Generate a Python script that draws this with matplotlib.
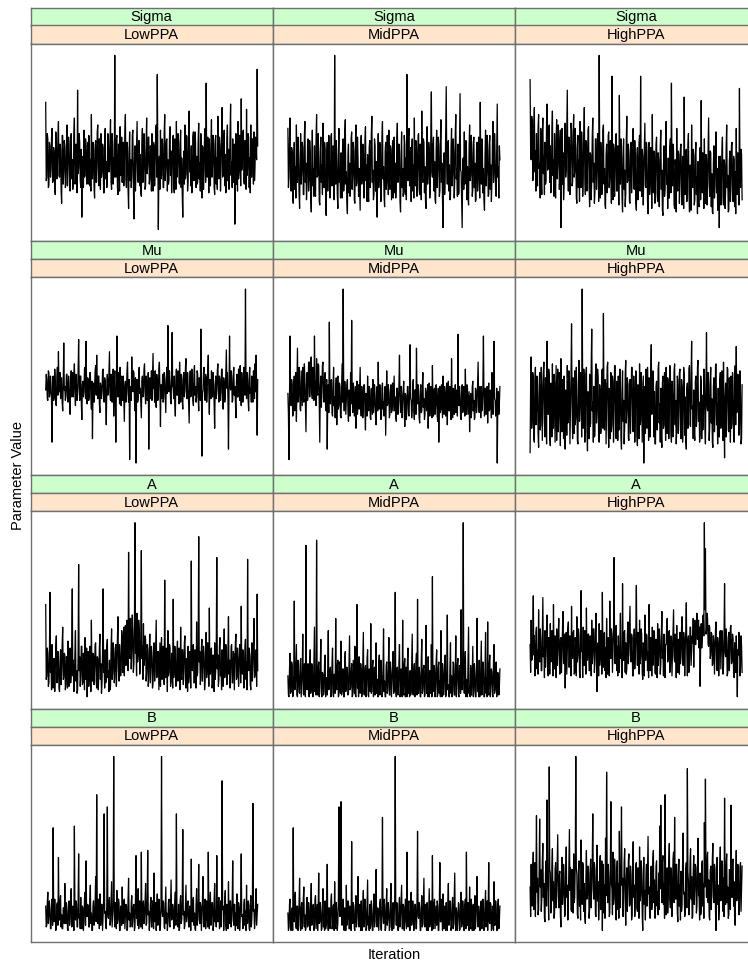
import numpy as np
import matplotlib.pyplot as plt

plt.rcParams['font.family'] = ['Liberation Sans', 'DejaVu Sans']

# trace values (relative scale per panel, 0 = lowest, 100 = highest)
sigma_low = [73,28,30,55,52,24,25,50,48,30,35,53,58,27,28,47,44,23,20,56,50,29,38,52,62,31,30,49,46,22,15,54,54,26,33,51,47,24,26,48,
             60,25,36,53,49,27,22,51,55,29,40,23,30,54,64,26,27,49,45,21,80,32,35,55,50,28,24,46,7,40,42,24,57,30,31,52,48,26,37,50,
             26,54,53,25,40,22,66,31,29,50,46,24,18,48,51,27,36,56,60,28,25,52,44,23,55,30,33,49,47,21,21,53,58,29,39,24,28,55,52,33,
             34,51,63,27,23,55,49,26,41,30,100,35,30,52,54,24,20,49,45,22,59,31,35,53,27,48,50,25,38,56,66,29,24,50,47,23,12,44,56,28,
             40,24,31,54,57,26,6,38,48,22,36,52,62,30,27,51,51,25,43,21,19,49,58,27,34,55,46,23,25,50,64,32,37,53,53,26,29,48,44,22,
             55,27,22,50,48,25,38,54,60,30,89,45,0,33,42,23,57,29,31,52,49,24,24,55,66,28,35,51,52,22,40,26,28,53,59,31,45,21,33,50,
             54,25,21,52,47,23,62,30,36,55,50,27,26,49,57,24,41,20,7,36,45,26,60,29,32,54,53,22,28,51,68,33,39,25,48,21,23,53,56,28,
             35,56,50,24,42,26,27,52,61,29,38,22,55,31,18,48,47,23,33,55,58,27,84,40,30,53,44,21,52,28,25,50,63,30,37,54,49,24,20,51,
             54,26,41,23,65,32,29,53,48,22,36,55,70,30,31,50,57,25,43,21,24,52,60,28,46,23,34,56,72,31,39,24,52,27,27,49,3,35,55,26,
             44,22,62,29,33,54,50,25,75,34,38,56,57,27,26,51,48,23,69,31,35,55,53,24,41,21,60,30,30,52,47,26,56,28,36,53,44,40,92,48]
sigma_mid = [58,24,30,52,64,28,22,47,45,19,15,41,50,23,36,18,60,29,27,53,43,21,12,38,55,26,33,50,47,20,20,54,62,27,38,17,25,49,52,22,
             29,51,44,18,10,40,57,25,35,19,48,23,19,52,66,30,31,55,40,16,14,45,53,27,37,20,61,28,24,50,46,19,8,39,50,22,34,54,42,18,
             21,53,55,25,30,48,47,17,100,40,26,51,39,20,12,44,58,27,35,18,44,24,18,50,52,22,28,55,63,26,33,16,9,42,49,21,38,19,24,52,
             56,23,31,50,45,17,15,48,60,25,27,53,41,19,35,22,11,46,54,26,30,49,47,18,22,51,59,28,37,16,43,21,16,47,51,24,29,55,65,27,
             34,17,20,52,48,22,39,18,7,37,55,24,32,50,44,16,25,53,62,29,36,19,13,45,50,23,28,54,42,20,57,26,23,48,46,17,33,51,18,43,
             53,21,38,18,26,52,61,27,30,49,45,16,10,41,56,24,35,19,22,54,49,20,41,17,89,36,28,53,58,25,33,47,16,44,52,22,37,18,64,28,
             25,51,47,19,31,54,55,23,20,49,43,17,68,30,27,52,50,21,36,16,12,42,59,26,33,50,46,18,24,55,79,33,30,48,53,22,39,17,15,45,
             57,24,34,53,48,19,22,50,63,27,38,16,1,35,44,20,30,54,82,37,26,49,51,22,37,17,19,46,58,25,32,52,45,18,28,55,66,29,35,19,
             49,20,21,52,78,34,33,18,1,38,41,23,56,26,27,51,47,17,36,20,14,47,60,28,31,54,44,19,23,50,53,24,38,16,17,46,50,22,29,53,
             42,18,73,31,26,52,48,21,35,17,11,43,57,25,32,54,45,19,20,49,54,23,37,16,28,51,62,27,33,55,43,20,19,48,72,30,36,18,48,40]
sigma_high = [86,45,40,65,62,28,30,60,70,33,45,22,55,30,25,58,66,35,38,18,58,29,20,55,64,32,42,20,50,26,28,62,72,34,35,57,60,27,48,21,
              24,56,68,31,40,19,55,27,18,52,63,29,37,60,52,23,30,57,1,40,58,26,44,17,26,54,61,30,35,59,80,36,22,53,49,20,38,61,57,25,
              27,55,66,30,33,58,46,18,15,47,54,24,40,16,62,28,24,56,45,19,31,53,70,32,20,51,50,22,36,57,59,25,13,44,43,17,29,54,64,27,
              38,15,21,52,52,23,33,55,47,16,100,42,18,50,44,20,28,57,60,26,35,14,12,43,49,21,25,54,56,24,31,51,41,15,88,38,17,49,46,19,
              30,53,55,22,22,48,39,14,77,33,26,52,48,18,10,41,52,23,34,13,20,50,65,27,28,49,43,16,15,46,50,21,32,54,58,24,23,51,40,15,
              11,42,47,17,29,50,54,22,88,37,19,46,42,14,33,48,61,25,24,50,45,16,9,38,50,20,27,47,38,12,66,28,21,45,44,15,30,49,53,21,
              16,44,40,13,26,48,57,23,34,11,8,36,48,19,23,46,62,26,31,12,41,18,18,47,52,21,84,35,25,49,45,14,12,40,36,10,58,24,22,45,
              43,15,29,47,49,19,14,42,38,12,76,31,20,44,46,16,27,48,55,22,10,37,35,11,60,25,24,46,42,14,17,43,50,20,30,9,39,15,13,41,
              47,17,74,30,21,44,36,12,52,22,15,43,41,14,28,47,64,26,19,45,44,13,32,10,9,38,48,18,25,46,56,21,35,11,18,42,1,30,42,14,
              27,45,53,19,14,40,38,12,22,47,60,24,31,10,11,39,45,16,26,48,50,20,16,42,40,13,33,9,58,23,20,44,36,14,81,34,24,46,43,17]
mu_low = [42,51,48,37,36,53,52,38,40,50,45,35,12,44,50,36,38,54,47,34,33,49,55,39,64,41,41,52,37,48,49,35,30,46,69,42,44,36,39,51,
          51,37,35,50,46,34,28,47,53,38,42,52,38,49,57,40,33,51,45,36,40,53,71,44,36,50,50,35,25,45,47,38,41,54,55,37,70,43,34,49,
          48,36,39,52,52,38,31,47,14,40,46,35,43,53,56,39,62,42,37,50,50,34,29,46,44,37,41,53,54,38,35,49,47,36,22,44,51,39,40,52,
          64,40,36,51,49,35,43,54,27,46,53,37,12,43,73,45,38,52,46,34,55,39,33,50,42,36,50,38,24,44,47,35,39,53,58,41,35,48,2,40,
          44,36,61,42,41,53,52,37,30,49,0,38,48,35,37,51,55,40,43,34,26,47,50,38,40,54,57,41,34,50,46,36,38,52,8,41,49,37,42,53,
          36,50,63,43,45,35,53,38,32,51,47,36,40,54,58,42,21,45,44,37,51,35,37,52,48,38,29,49,55,40,79,46,41,53,46,36,34,50,75,44,
          43,37,50,35,27,48,54,39,39,53,46,34,58,42,35,51,48,36,31,50,52,38,42,55,60,41,37,52,45,35,23,46,53,38,40,54,49,36,33,51,
          56,39,44,35,38,53,51,37,30,49,47,36,77,45,4,40,42,52,55,38,36,51,49,35,41,54,62,42,28,48,46,37,53,39,38,52,45,34,20,45,
          50,37,43,53,57,40,35,50,48,36,40,54,54,38,31,49,46,35,39,52,65,43,52,37,8,41,73,44,42,53,49,35,36,51,55,39,44,36,26,47,
          51,38,38,54,47,36,56,40,33,52,45,35,41,55,53,39,100,46,37,52,48,36,30,50,55,40,43,35,50,38,35,53,46,37,57,41,62,44,16,48]
mu_mid = [40,28,2,37,73,40,33,48,45,27,28,46,50,30,36,52,24,44,66,35,38,55,47,31,30,53,42,33,55,38,35,57,48,34,18,45,52,36,40,58,
          58,38,44,60,61,40,37,55,54,36,73,47,46,33,60,42,39,57,56,35,12,44,50,32,43,56,58,37,35,50,52,31,30,48,8,36,45,29,81,42,
          34,47,48,29,27,44,55,33,38,26,42,49,22,40,50,31,33,46,44,27,26,43,57,35,100,45,30,47,41,28,36,45,48,30,24,42,39,27,52,34,
          82,40,29,46,43,27,35,44,20,38,47,28,37,45,31,42,55,33,27,44,40,26,34,45,45,29,19,40,38,27,50,32,30,44,42,26,25,43,36,28,
          48,29,33,45,39,26,22,41,44,30,58,35,31,45,37,25,26,43,46,31,35,27,41,44,16,36,53,33,34,45,40,26,28,42,45,29,36,46,30,41,
          50,30,38,27,24,43,43,28,33,45,62,36,29,44,40,26,35,42,47,30,21,40,39,25,32,44,44,28,27,43,68,37,36,26,31,45,48,30,25,42,
          42,28,66,38,34,45,38,26,23,41,45,29,30,44,52,32,37,25,28,43,41,30,35,45,20,38,46,27,32,44,39,26,56,34,27,42,43,28,33,45,
          38,27,24,43,12,35,44,29,31,45,36,26,50,31,28,44,40,27,34,46,22,40,47,30,30,44,38,25,60,36,26,43,42,28,35,45,29,42,41,27,
          74,38,33,44,39,26,25,42,45,29,31,44,37,27,54,33,28,45,43,28,34,41,18,37,40,26,30,44,47,30,36,25,26,43,42,29,33,45,58,35,
          29,44,38,26,44,30,32,45,73,38,27,43,40,28,35,44,23,40,46,30,31,42,39,26,52,34,28,45,70,37,36,27,30,43,0,32,41,28,34,44]
mu_high = [6,45,61,20,25,52,48,14,12,47,55,22,30,50,40,17,9,44,52,19,22,55,45,13,35,53,58,24,15,49,42,11,70,30,28,54,50,16,10,46,
           38,15,57,21,20,51,46,12,33,56,13,43,54,18,27,52,44,10,60,25,18,48,36,14,50,20,8,42,41,16,56,23,24,53,47,11,31,50,80,35,
           14,49,43,17,53,22,26,55,37,13,11,46,59,24,32,52,45,15,100,40,20,54,48,12,29,51,55,19,7,41,39,14,51,21,23,56,77,30,35,12,
           44,15,16,50,57,23,30,54,49,13,12,45,41,17,26,53,54,20,86,36,19,48,46,11,34,55,58,22,9,43,40,14,52,18,22,50,47,12,31,56,
           56,21,14,47,38,13,50,19,25,54,43,15,8,42,53,24,36,11,21,51,59,23,30,49,45,14,13,46,48,17,35,55,55,20,18,50,42,12,27,53,
           51,16,10,45,39,14,57,22,24,52,46,12,33,50,0,35,44,17,54,21,20,55,37,13,49,18,15,48,68,28,29,53,52,15,41,11,11,44,47,19,
           26,54,58,23,34,12,43,16,9,46,50,20,22,52,38,13,55,21,17,49,45,14,32,56,53,18,12,47,40,15,28,53,57,22,36,11,19,50,48,17,
           31,52,54,19,14,48,44,12,25,55,51,16,38,13,8,43,46,20,29,54,56,22,21,50,70,31,33,14,42,17,13,47,50,21,27,55,59,24,35,12,
           16,50,47,14,39,19,24,54,53,21,11,45,75,33,30,52,45,13,20,48,55,23,37,12,9,44,49,18,28,56,57,22,34,11,43,16,15,47,52,20,
           26,53,40,13,58,24,3,38,46,15,32,55,54,19,18,49,41,12,50,20,23,52,44,14,12,46,56,22,67,29,30,51,48,16,21,53,39,11,14,45]
a_low = [53,10,12,28,25,6,8,24,60,14,18,4,30,9,5,22,22,3,14,29,35,8,9,26,20,5,3,21,27,7,16,30,40,10,11,25,24,4,7,23,
         19,5,32,11,6,27,28,8,13,31,62,12,21,3,10,26,38,9,15,2,4,24,76,15,23,6,12,29,29,7,8,25,18,4,34,10,14,28,0,19,
         26,6,11,29,20,3,44,12,9,25,24,7,16,30,31,9,5,23,22,4,13,28,36,10,19,2,8,26,62,14,17,5,27,8,10,29,33,11,15,3,
         21,4,6,27,39,10,14,31,25,8,11,28,30,6,18,34,46,15,9,30,23,12,15,38,35,14,20,40,12,32,41,18,26,44,33,15,83,28,22,45,
         45,16,28,47,37,14,19,42,100,25,30,12,48,20,24,44,39,13,17,38,84,22,29,10,42,18,21,35,33,9,14,30,27,6,10,28,36,8,18,29,
         23,5,8,27,31,9,15,30,44,11,12,26,26,4,19,31,6,24,34,10,16,29,25,7,67,14,11,28,21,3,38,12,14,30,28,6,9,25,20,5,
         56,11,17,29,24,6,7,26,32,9,13,28,22,4,40,12,10,27,27,7,16,31,35,10,5,22,19,3,29,8,12,26,23,5,78,16,15,29,30,8,
         8,27,21,5,43,12,14,30,92,20,26,7,11,28,33,9,18,29,25,4,9,26,37,11,16,31,22,6,51,13,13,27,28,5,7,24,20,3,31,10,
         15,28,80,16,24,6,10,29,34,12,19,4,27,9,6,25,39,11,17,30,23,7,12,27,46,13,21,5,14,29,30,8,8,26,25,4,18,31,36,10,
         11,28,22,6,16,30,29,8,52,14,13,27,26,5,9,29,33,10,20,4,79,17,15,28,24,7,4,23,31,9,18,30,45,11,12,26,27,6,59,15]
a_mid = [12,1,0,16,25,2,3,20,18,0,1,13,55,4,6,17,30,1,0,21,14,3,2,18,22,0,8,15,36,2,1,19,10,0,87,8,4,14,19,1,
         0,17,27,2,5,19,15,0,2,21,40,3,9,1,90,10,1,16,20,0,7,18,33,2,0,14,13,1,3,20,24,0,11,3,1,17,38,4,6,15,
         17,0,2,19,28,1,0,13,12,2,45,6,4,18,21,0,1,20,9,2,32,1,3,16,16,0,0,22,26,3,7,17,14,1,2,19,35,4,5,14,
         19,0,1,21,11,2,29,1,0,17,53,5,8,0,23,3,2,19,15,0,4,20,37,2,1,15,18,0,6,22,27,1,0,16,13,3,42,2,3,18,
         21,0,7,17,1,14,31,2,10,0,0,19,24,1,5,21,16,0,2,15,39,3,9,0,0,18,20,2,4,16,34,1,1,20,14,0,8,17,26,2,
         3,18,60,4,0,15,17,1,6,20,30,0,2,16,12,0,44,3,1,19,22,0,5,17,0,21,28,2,9,0,15,1,3,18,36,2,1,14,19,0,
         7,20,25,1,56,3,2,17,13,0,0,21,33,2,4,16,18,0,1,19,41,2,8,0,23,1,0,15,11,2,30,0,69,5,3,18,16,0,6,20,
         27,0,1,17,20,2,9,0,38,3,0,19,14,1,5,21,24,0,2,16,47,4,7,0,0,18,31,2,12,0,3,20,19,1,1,15,35,0,8,19,
         22,1,0,18,15,2,50,5,4,20,100,8,2,17,26,0,10,1,0,21,40,2,6,0,18,1,1,16,29,0,3,19,13,0,0,17,45,3,9,0,
         21,0,2,18,32,1,5,20,16,0,0,15,37,2,11,0,43,3,1,19,24,0,7,16,14,1,0,21,30,2,4,17,20,0,2,14,12,1,6,16]
a_high = [30,14,44,21,22,38,58,24,35,12,18,37,40,16,27,13,50,22,20,39,33,15,15,36,57,23,28,11,38,17,24,40,47,19,12,34,31,13,42,20,
          21,38,36,12,53,22,16,35,29,11,39,18,25,37,45,20,13,33,34,14,23,40,49,21,19,36,5,28,37,13,26,39,43,17,17,35,32,12,52,23,
          22,37,38,13,14,34,30,12,46,20,24,39,35,14,11,32,61,26,27,11,40,18,18,38,33,13,51,22,21,36,36,15,15,35,29,12,44,19,25,39,
          39,14,20,37,48,21,3,24,31,12,42,18,23,38,34,13,60,25,17,36,37,15,28,11,45,20,13,34,30,12,55,23,22,39,36,14,26,38,80,30,
          19,36,41,15,29,12,35,18,14,33,48,22,24,11,65,27,21,37,38,14,31,13,16,35,43,19,27,40,52,24,20,36,34,12,12,30,39,16,25,38,
          64,26,18,37,32,13,44,19,23,39,36,14,10,31,29,12,47,21,21,36,35,15,26,11,53,23,15,34,31,12,40,18,22,38,37,14,13,33,28,11,
          42,18,24,39,33,13,19,36,49,22,27,12,36,15,11,30,30,40,45,20,22,37,38,14,16,35,34,12,25,38,50,23,20,36,32,11,41,17,14,33,
          29,13,37,19,23,39,46,21,18,37,33,12,27,38,54,24,12,32,35,14,21,40,40,18,26,35,31,45,17,38,44,30,30,42,48,33,36,44,28,40,
          6,30,42,28,33,46,47,35,100,50,85,36,38,48,45,30,29,41,40,22,24,37,36,18,19,35,32,13,27,39,43,20,15,34,30,12,22,37,38,16,
          26,38,34,13,18,36,65,25,23,39,31,12,14,34,37,15,25,40,41,19,20,36,33,13,11,31,28,14,35,20,0,27,24,37,32,12,17,35,29,14]
b_low = [14,2,3,16,22,4,8,17,12,1,1,14,18,3,59,10,5,18,10,0,2,15,16,3,42,8,6,17,20,2,9,1,1,13,13,4,27,6,4,16,
         11,1,0,15,17,3,7,18,24,2,3,14,12,0,60,11,6,17,15,2,2,16,44,7,9,1,19,4,1,14,13,0,5,18,22,3,40,9,8,15,
         14,2,2,17,26,4,10,0,0,14,17,3,6,16,31,5,78,12,4,18,12,1,21,3,3,15,15,0,8,17,67,10,11,2,1,16,71,9,7,14,
         19,3,5,17,28,2,9,15,100,12,2,16,13,1,23,4,6,18,16,0,0,14,11,3,25,5,4,17,18,1,8,15,14,0,1,18,30,6,10,2,
         3,16,20,2,7,14,15,0,2,18,43,7,9,3,24,1,5,17,12,2,45,8,1,15,17,4,8,16,27,3,4,18,46,9,11,0,6,15,19,2,
         2,17,14,1,33,5,9,16,0,13,21,3,6,18,13,0,3,15,100,11,8,17,16,2,1,14,25,4,10,0,5,16,18,3,2,17,29,6,7,15,
         12,1,4,16,22,3,67,10,9,2,15,0,1,17,20,4,6,18,58,9,11,1,3,15,26,5,8,16,17,2,2,14,13,0,41,7,5,17,19,3,
         10,1,0,15,24,3,7,17,38,6,4,16,14,0,9,18,31,4,2,14,18,1,6,17,12,2,45,8,1,15,22,3,8,16,16,0,3,18,27,5,
         11,2,43,7,5,16,19,1,9,17,2,14,86,12,14,0,7,18,23,3,0,15,12,1,28,4,4,17,17,2,8,16,40,6,3,15,15,0,10,3,
         21,2,1,16,13,0,6,18,44,8,9,1,2,15,18,3,11,0,26,4,4,17,15,1,0,14,20,2,7,16,73,11,12,1,5,17,24,3,9,15]
b_mid = [10,0,2,15,18,1,0,12,13,0,59,9,5,17,22,2,1,14,14,0,7,16,30,3,0,13,16,1,4,18,25,2,9,0,1,15,19,2,3,16,
         12,1,0,17,27,3,6,14,15,0,2,18,20,1,8,15,0,12,33,4,5,16,11,0,1,14,24,2,9,0,17,1,3,15,38,5,0,13,13,1,
         6,17,21,1,2,14,15,0,28,3,1,16,10,0,4,18,71,12,8,20,74,10,3,15,18,1,0,13,12,0,26,3,5,17,16,1,1,14,9,0,
         51,8,4,16,14,1,0,12,20,2,7,17,31,3,2,15,11,0,17,1,0,14,23,2,6,18,13,0,1,16,29,3,8,0,15,1,3,17,10,0,
         0,15,21,2,5,17,35,4,2,13,12,0,8,16,18,1,0,14,65,9,4,18,14,0,1,15,24,3,7,16,10,0,2,17,27,2,0,12,16,1,
         6,18,100,12,3,16,12,0,0,14,19,2,8,17,26,1,1,15,14,0,5,18,9,1,45,6,2,16,17,0,0,13,22,3,6,17,11,0,3,15,
         15,1,1,17,57,8,7,16,13,0,0,14,20,2,4,18,30,3,2,15,10,0,16,1,0,13,24,2,6,17,12,0,43,5,1,16,18,1,8,14,
         3,17,14,0,0,15,39,5,5,18,11,0,21,2,1,14,9,0,16,1,0,16,27,3,6,17,13,0,2,15,19,1,4,18,33,4,0,13,10,0,
         7,16,15,0,1,14,22,2,4,17,12,0,0,15,18,1,45,7,3,16,9,0,25,2,1,18,14,0,6,15,0,13,20,1,8,16,31,3,2,14,
         11,0,0,16,17,1,5,18,13,0,2,15,23,2,7,17,0,13,39,5,4,16,15,0,1,14,10,0,28,3,3,17,12,0,0,15,18,1,6,14]
b_high = [25,8,38,15,14,36,45,12,20,39,8,30,66,22,30,9,12,34,64,25,35,11,18,40,50,19,27,7,5,33,40,14,75,28,22,6,94,35,33,10,
          16,37,47,17,28,7,10,35,39,13,24,41,55,20,13,32,34,9,2,27,42,15,21,38,31,8,9,33,48,19,26,6,17,39,58,23,36,12,11,35,
          29,10,44,16,19,38,100,36,32,9,7,34,40,14,23,6,52,21,15,39,37,11,27,8,4,30,46,18,20,37,33,7,12,35,41,13,25,40,67,24,
          18,39,35,9,8,32,49,17,28,6,14,37,43,12,22,40,0,26,38,10,26,7,53,20,91,33,16,38,31,8,10,36,74,27,24,9,45,15,19,41,
          34,10,6,33,40,12,27,7,57,22,13,38,71,26,30,8,21,39,47,16,3,29,36,11,24,40,44,14,15,37,32,6,9,34,51,19,26,8,18,38,
          39,13,11,36,28,7,48,17,20,40,35,9,0,28,42,15,23,6,31,38,14,33,54,21,25,8,7,35,37,12,19,41,46,16,29,7,12,37,40,14,
          22,9,33,12,60,24,72,28,16,39,43,15,27,7,78,30,9,34,36,10,21,40,50,18,13,36,30,8,24,41,45,16,65,25,18,38,38,11,5,31,
          41,14,26,6,34,11,15,39,56,21,22,8,10,35,39,13,93,34,28,9,17,40,47,18,31,7,8,33,43,15,25,38,36,10,14,37,53,20,20,6,
          33,9,11,36,40,14,27,7,62,25,87,32,19,40,45,16,29,8,6,34,37,12,23,41,50,19,16,38,35,10,0,29,42,15,26,6,12,37,48,17,
          21,40,38,11,30,8,76,28,15,37,44,16,25,7,9,35,34,12,72,26,19,39,41,14,28,6,3,30,46,17,22,38,31,9,13,36,39,11,24,37]

parameters = ['Sigma', 'Mu', 'A', 'B']
groups = ['LowPPA', 'MidPPA', 'HighPPA']
traces = [[sigma_low, sigma_mid, sigma_high],
          [mu_low, mu_mid, mu_high],
          [a_low, a_mid, a_high],
          [b_low, b_mid, b_high]]

W, H = 748, 967
fig = plt.figure(figsize=(W / 100, H / 100), dpi=100)

border = '#707070'
green = '#ccffcc'
peach = '#ffe5cc'
x0, colw = 30.5, 242.2
y0, rowh, striph, panelh = 7.5, 233.7, 18.0, 197.7


def box(left, top, w, h):
    # pixel box -> figure fraction axes
    return fig.add_axes([left / W, 1 - (top + h) / H, w / W, h / H])


def strip(left, top, label, color):
    ax = box(left, top, colw, striph)
    ax.set_facecolor(color)
    ax.set_xticks([])
    ax.set_yticks([])
    for s in ax.spines.values():
        s.set_color(border)
        s.set_linewidth(1.0)
    ax.text(0.5, 0.45, label, ha='center', va='center', fontsize=10.5,
            transform=ax.transAxes)


for r, par in enumerate(parameters):
    for c, grp in enumerate(groups):
        left = x0 + c * colw
        top = y0 + r * rowh
        strip(left, top, par, green)
        strip(left, top + striph, grp, peach)
        ax = box(left, top + 2 * striph, colw, panelh)
        y = np.array(traces[r][c], dtype=float)
        x = np.arange(len(y))
        ax.plot(x, y, color='black', lw=0.9)
        n = len(y) - 1
        span = n / (212.0 / colw)
        lo = -15.2 / colw * span
        ax.set_xlim(lo, lo + span)
        ax.set_ylim(-6.8, 106.8)
        ax.set_xticks([])
        ax.set_yticks([])
        for s in ax.spines.values():
            s.set_color(border)
            s.set_linewidth(1.0)

fig.text(394 / W, 1 - 955 / H, 'Iteration', ha='center', va='center', fontsize=10.5)
fig.text(18 / W, 1 - 475 / H, 'Parameter Value', ha='center', va='center',
         rotation=90, fontsize=10.5)

fig.savefig('out.png', dpi=100)
